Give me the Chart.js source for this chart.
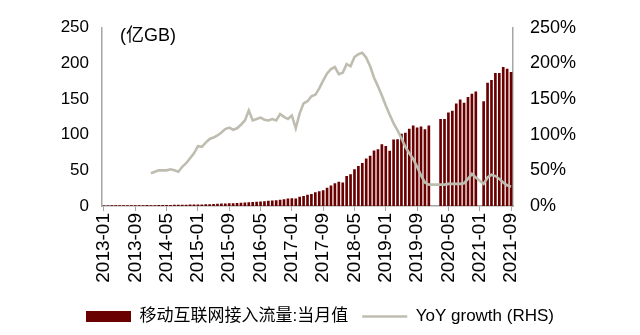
<!DOCTYPE html>
<html>
<head>
<meta charset="utf-8">
<script src="https://cdn.jsdelivr.net/npm/chart.js@4.4.1/dist/chart.umd.min.js"></script>
<style>
  html, body { margin: 0; padding: 0; background: #fff; }
</style>
</head>
<body>
<canvas id="traffic" width="640" height="335"></canvas>
<script>
// months 2013-01 .. 2021-09
let months = [];
for (let y = 2013; y <= 2021; y++) {
    for (let m = 1; m <= 12; m++) {
        if (y === 2021 && m > 9) break;
        months.push(y + '-' + String(m).padStart(2, '0'));
    }
}

// 移动互联网接入流量:当月值 (亿GB)
let traffic = [
    0.8, 0.8, 0.9, 0.9, 1.0, 1.0, 1.1, 1.1, 1.1, 1.2, 1.2, 1.3,
    1.2, 1.2, 1.35, 1.35, 1.5, 1.5, 1.65, 1.7, 1.75, 1.9, 2.0, 2.2,
    2.2, 2.2, 2.55, 2.6, 2.9, 3.0, 3.4, 3.5, 3.7, 3.9, 4.2, 4.7,
    4.8, 5.1, 5.6, 5.8, 6.4, 6.6, 7.5, 7.7, 8.1, 8.9, 9.4, 10.4,
    10.9, 10.6, 13, 14.2, 15.8, 16.9, 19.2, 20.6, 22, 25.5, 28.7, 32,
    34, 33, 42, 44.6, 51.5, 56, 60.5, 66.5, 70.6, 78, 79.7, 86.5,
    84.2, 77.4, 93.3, 93.8, 101.5, 102.9, 108.3, 113, 110.2, 111.6, 107.5, 113,
    null, null, 122, 122, 131, 133.5, 143.9, 149.4, 144.8, 153, 157.5, 160.8,
    null, 147, 173, 176.6, 186.7, 186.7, 195, 192.6, 188
];

// YoY growth (%)
let yoy = [
    null, null, null, null, null, null, null, null, null, null, null, null,
    46, 48, 50, 50, 50, 51.5, 50, 48, 55, 60, 67, 74,
    84, 83, 89, 94, 96, 99, 103, 108, 110, 107, 109, 114,
    120, 134, 120, 122, 124, 121, 120, 122, 120, 129, 125, 122,
    127, 109, 130, 144, 147, 154, 156, 165, 176, 186, 192, 195,
    185, 187, 199, 196, 209, 213, 215, 208, 196, 180, 168, 155,
    141, 128, 116, 106, 95, 83, 74, 66, 55, 43, 33, 30,
    null, null, 30, 30, 31, 31, 31, 31, 32, 38, 45, 40,
    null, 31, 40, 44, 42, 38, 33, 29, 27
];

let leftTicks = [0, 50, 100, 150, 200, 250];
let barColor = '#6b0000';
let lineColor = '#bfbdb0';
let axisColor = '#a6a6a6';
let fam = 'Liberation Sans, Arial, Noto Sans CJK SC';

let unitLabel = {
    id: 'unitLabel',
    afterDraw(chart) {
        let c = chart.ctx;
        c.save();
        c.font = '18px ' + fam;
        c.fillStyle = '#000';
        c.textBaseline = 'middle';
        c.fillText('(亿GB)', chart.chartArea.left + 18, chart.chartArea.top + 8);
        c.restore();
    }
};

let ctx = document.getElementById('traffic').getContext('2d');
let trafficChart = new Chart(ctx, {
    type: 'bar',
    data: {
        labels: months,
        datasets: [{
            label: '移动互联网接入流量:当月值',
            data: traffic,
            backgroundColor: barColor,
            barPercentage: 0.68,
            categoryPercentage: 1,
            pointStyle: 'rect',
            yAxisID: 'y',
            order: 2
        }, {
            type: 'line',
            label: 'YoY growth (RHS)',
            data: yoy,
            borderColor: lineColor,
            backgroundColor: lineColor,
            borderWidth: 2.6,
            pointRadius: 0,
            pointStyle: 'line',
            spanGaps: true,
            tension: 0,
            yAxisID: 'y1',
            order: 1
        }]
    },
    options: {
        responsive: false,
        animation: false,
        layout: { padding: { top: 21, left: 0, right: 0, bottom: 0 } },
        plugins: {
            tooltip: { enabled: false },
            legend: {
                position: 'bottom',
                labels: {
                    usePointStyle: true,
                    pointStyleWidth: 45,
                    boxHeight: 11,
                    padding: 14,
                    color: '#000',
                    font: { family: fam, size: 17 },
                    sort: (a, b) => a.datasetIndex - b.datasetIndex
                }
            }
        },
        scales: {
            x: {
                offset: true,
                grid: {
                    offset: false,
                    drawOnChartArea: false,
                    tickLength: 5,
                    color: (c) => c.index % 8 === 0 ? axisColor : 'rgba(0,0,0,0)'
                },
                border: { color: axisColor, width: 1.5 },
                ticks: {
                    autoSkip: false,
                    minRotation: 90,
                    maxRotation: 90,
                    padding: 2,
                    color: '#000',
                    font: { family: fam, size: 19 },
                    callback: (v, i) => i % 8 === 0 ? months[i] : ''
                },
                afterFit: (s) => { s.height = 88; }
            },
            y: {
                position: 'left',
                min: 0,
                max: 250,
                afterBuildTicks: (s) => { s.ticks = leftTicks.map(v => ({ value: v })); },
                grid: { display: false, drawTicks: false },
                border: { color: axisColor, width: 1.5 },
                ticks: { padding: 13, color: '#000', font: { family: fam, size: 17 } },
                afterFit: (s) => { s.width = 102; }
            },
            y1: {
                position: 'right',
                min: 0,
                max: 250,
                afterBuildTicks: (s) => { s.ticks = leftTicks.map(v => ({ value: v })); },
                grid: { display: false, drawTicks: false },
                border: { color: axisColor, width: 1.5 },
                ticks: { padding: 17, color: '#000', font: { family: fam, size: 18 }, callback: (v) => v + '%' },
                afterFit: (s) => { s.width = 127; }
            }
        }
    },
    plugins: [unitLabel]
});
</script>
</body>
</html>
